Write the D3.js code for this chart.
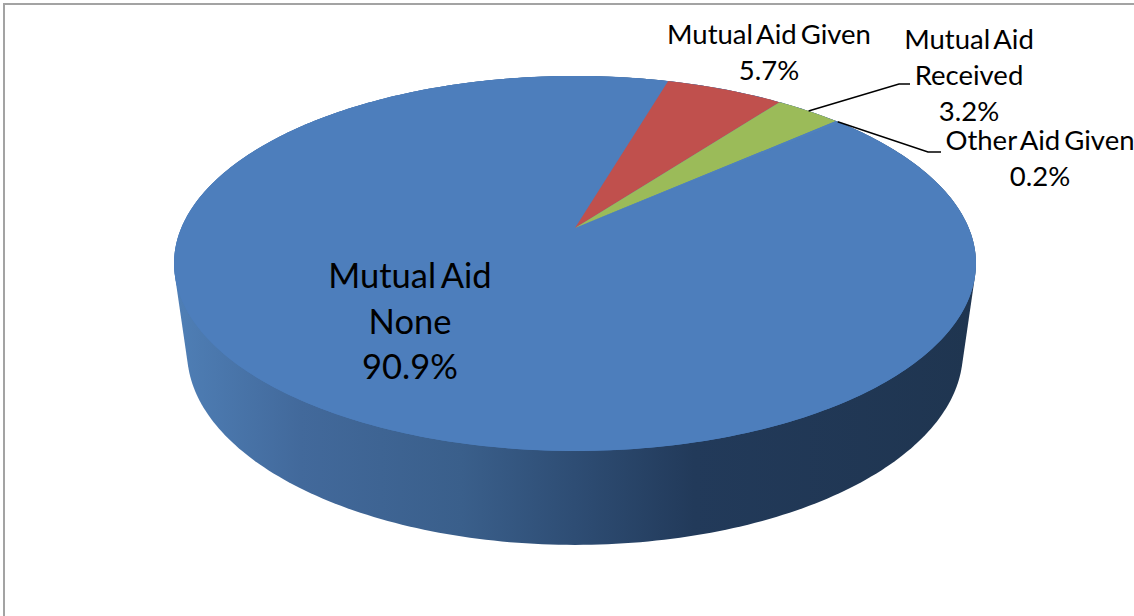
<!DOCTYPE html>
<html><head><meta charset="utf-8">
<script src="https://cdn.jsdelivr.net/npm/d3@7"></script>
<style>html,body{margin:0;padding:0;background:#fff}svg{display:block}text{font-family:Lato,sans-serif;fill:#000;text-anchor:middle}</style>
</head><body>
<script>
const categories = ["Mutual Aid None","Mutual Aid Given","Mutual Aid Received","Other Aid Given"];
const values = [90.9,5.7,3.2,0.2];
const valueLabels = ["90.9%","5.7%","3.2%","0.2%"];
const colors = ["#4d7ebc","#c0504d","#9bbb59","#4f81bd"];
const labelLines = [["Mutual Aid","None"],["Mutual Aid Given"],["Mutual Aid","Received"],["Other Aid Given"]];

const W=1134,H=616;
const svg=d3.select("body").append("svg").attr("width",W).attr("height",H);
const defs=svg.append("defs");
const grad=defs.append("linearGradient").attr("id","side").attr("gradientUnits","userSpaceOnUse").attr("x1",173).attr("x2",975).attr("y1",0).attr("y2",0);
[[0,"#4f7fb6"],[0.16,"#42699b"],[0.36,"#3a5f8b"],[0.5,"#2e4d74"],[0.65,"#223a5a"],[1,"#1f3550"]].forEach(([o,c])=>grad.append("stop").attr("offset",o).attr("stop-color",c));

svg.append("path").attr("d",`M4,${H}V4H${W}`).attr("fill","none").attr("stroke","#a3a3a3").attr("stroke-width",2);

// perspective projection of a unit disc
const cx=575,cy=228,a=393.7,b=180.8,k=-0.189;
function project(x,y,sx=1,sy=1,dz=0){const w=1+k*y;return [cx+sx*a*x/w,cy+dz+sy*b*y/w];}
const onRim=(ang,sx,sy,dz)=>project(Math.sin(ang),-Math.cos(ang),sx,sy,dz);
const line=d3.line();
const full=d3.range(0,361,1).map(d=>d*Math.PI/180);

// side wall: hull of top and bottom rims
const hull=d3.polygonHull([...full.map(t=>onRim(t,1,1,0)),...full.map(t=>onRim(t,0.9676,1.029,87.5))]);
svg.append("path").attr("d",line(hull)+"Z").attr("fill","url(#side)");
svg.append("path").attr("d",line(full.map(t=>onRim(t,1,1,0)))+"Z").attr("fill",colors[0]);

// top slices
const start=49*Math.PI/180;
const pie=d3.pie().sort(null).startAngle(start).endAngle(start+2*Math.PI);
const arcs=pie(values);
svg.selectAll("path.slice").data(arcs).join("path").attr("class","slice")
  .attr("d",d=>{const n=Math.max(2,Math.ceil((d.endAngle-d.startAngle)*60));
    const pts=d3.range(n+1).map(i=>onRim(d.startAngle+(d.endAngle-d.startAngle)*i/n,1,1,0));
    return line([project(0,0),...pts])+"Z";})
  .attr("fill",(d,i)=>colors[i]);

// leader lines
const rimMid=i=>onRim((arcs[i].startAngle+arcs[i].endAngle)/2,1,1,0);
const leaders=[[2,[[899,84],[910,84]]],[3,[[928,152],[941,152]]]];
leaders.forEach(([i,rest])=>{svg.append("path").attr("d",line([rimMid(i),...rest])).attr("fill","none").attr("stroke","#000").attr("stroke-width",1.5);});

// labels
const place=[{x:410,y:288,lh:45.5,fs:34.5,ws:-3},{x:769,y:44,lh:36,fs:27.5,ws:-3},{x:969,y:49,lh:36,fs:27.5,ws:-3},{x:1040,y:150,lh:36,fs:27.5,ws:-3}];
categories.forEach((c,i)=>{const p=place[i];const t=svg.append("text").attr("font-size",p.fs).attr("word-spacing",p.ws);
  [...labelLines[i],valueLabels[i]].forEach((s,j)=>t.append("tspan").attr("x",p.x).attr("y",p.y+j*p.lh).text(s));});
</script>
</body></html>
